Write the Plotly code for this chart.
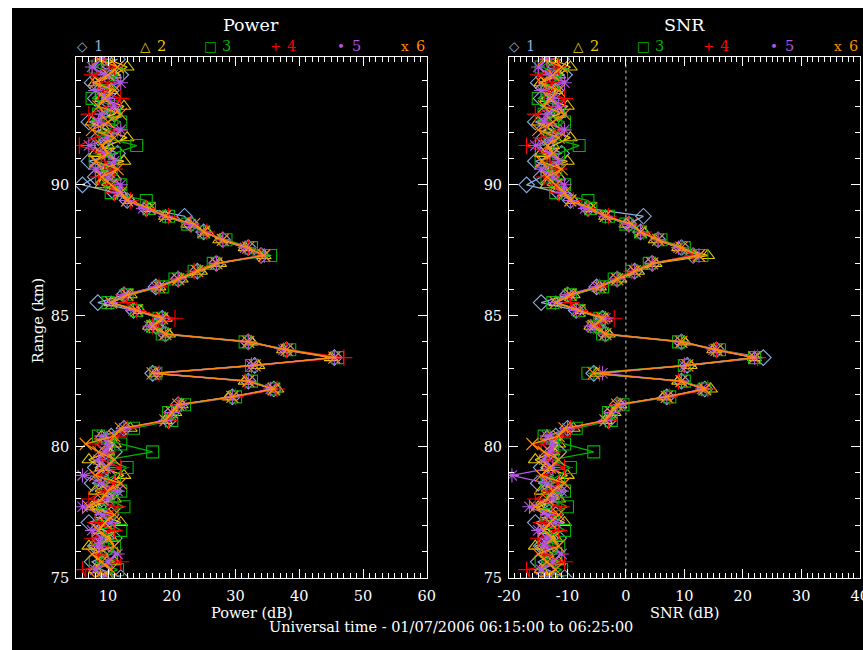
import plotly.graph_objects as go

# Range gates (km): 75.0 .. 94.8 every 0.3 km
gate_start = 75.0
gate_step = 0.3
n_gates = 67
ranges_km = [round(gate_start + gate_step * k, 1) for k in range(n_gates)]

series_names = ["1", "2", "3", "4", "5", "6"]
series_colors = ["#8aaee0", "#e8c800", "#00b400", "#ff0000", "#b455e6", "#ff8c00"]
series_symbols = ["diamond-open", "triangle-up-open", "square-open",
                  "cross-thin-open", "asterisk-open", "x-thin-open"]
legend_glyphs = ["\u25c7", "\u25b3", "\u25a1", "+", "\u2022", "x"]

# Power (dB) per beam
power_1 = [12, 9, 7.5, 10, 8, 11, 9.5, 7, 10.5, 8.5, 9, 11, 7.5, 10, 8, 9.5, 11,
           9.5, 10.5, 12.5,
           19.5, 20, 21, 29.5, 36, 32, 17, 33, 45.5, 38, 32, 19, 17.5, 18.5, 14, 8.4,
           12.5, 17.5, 21, 24, 27, 34, 32, 28, 25, 23, 22, 16, 13, 11, 6,
           8, 10, 7, 11.5, 9, 8.5, 10, 7, 11, 9.5, 8, 10.5, 7.5, 12, 9, 11.5]
power_2 = [10, 8, 11, 9, 7, 10.5, 8.5, 12, 9, 7.5, 11, 8, 10, 12.5, 9, 7, 10,
           11, 9, 13.5,
           19, 20.5, 21.5, 29, 36.5, 31.5, 17.5, 33.5, 45, 37.5, 32.5, 19.5, 16.5, 19, 15, 10.5,
           13.5, 18, 21.5, 24.5, 27.5, 34.5, 31.5, 27.5, 25.5, 22.5, 19, 16.5, 13.5, 12, 9,
           11, 9, 12.5, 8, 10, 13, 9.5, 7.5, 11, 12.5, 9, 10.5, 8, 11, 13, 10]
power_3 = [9, 11.5, 8, 10.5, 11, 8.5, 12, 10, 9, 12.5, 10, 12, 9, 11, 13, 10, 17,
           12, 8.5, 14,
           20, 19.5, 22, 30, 36, 32.5, 17.5, 32.5, 46, 38.5, 31.5, 18.5, 17, 18, 14.5, 10,
           13, 18.5, 20.5, 23.5, 26.5, 35.5, 32.5, 28.5, 25, 22.5, 19.5, 16.5, 16, 10.5, 12,
           9, 10.5, 8, 11, 14.5, 9.5, 10, 12, 8.5, 11, 7.5, 9, 10, 11.5, 8, 10]
power_4 = [6.5, 6, 12, 8.5, 9, 7.5, 11, 8, 10, 11.5, 7, 9.5, 11, 8.5, 12, 9, 10,
           8, 11.5, 13,
           19.5, 20, 21, 30, 36.5, 31.5, 18, 32.5, 47, 38, 32, 19, 17, 20.5, 14.5, 13,
           12.5, 18, 21, 23.5, 27, 34, 32, 28, 25.5, 23, 19.5, 16, 13.5, 11, 10.5,
           8.5, 11, 9.5, 9, 5.5, 8, 11.5, 9, 7, 10.5, 12, 8.5, 10, 7.5, 11, 9]
power_5 = [9.5, 8, 10, 11.5, 8.5, 9, 7.5, 10.5, 9, 6, 10, 11.5, 9, 6, 10, 8.5, 9.5,
           10, 9, 12.5,
           19, 20, 21.5, 29.5, 35.5, 32, 17.5, 32.5, 45.5, 37.5, 32, 19, 16.5, 18.5, 14, 10.5,
           12.5, 17.5, 21, 24, 27, 34.5, 31.5, 28, 25, 23, 19, 15.5, 13, 11.5, 12,
           10, 8, 11, 9.5, 7, 10, 12, 8.5, 9, 11, 10, 8, 12, 9.5, 7.5, 9]
power_6 = [8, 10.5, 9, 7.5, 11, 10, 8.5, 9.5, 11, 7, 9, 10, 12, 8, 9.5, 11, 8.5,
           6.5, 11, 12,
           19, 20, 21, 29.5, 36, 32, 17, 33, 45.5, 38, 32, 19, 17, 18.5, 14.5, 10.5,
           13, 18, 21, 24, 27, 34.5, 32, 28, 25, 23.5, 19, 16.5, 13, 12, 10.5,
           9, 11.5, 8, 10, 9, 11, 7.5, 10, 12, 8.5, 9.5, 11, 8, 10, 11.5, 8.5]

# SNR (dB) per beam
snr_1 = [-10.5, -13.5, -15, -12.5, -14.5, -11.5, -13, -15.5, -12, -14, -13.5, -11.5, -15, -12.5, -14.5, -13, -11.5,
         -13, -12, -10,
         -3, -2.5, -1.5, 7, 13.5, 9.5, -5.5, 10.5, 23.5, 15.5, 9.5, -3.5, -5, -4, -8.5, -14.5,
         -10, -5, -1.5, 1.5, 4.5, 11.5, 9.5, 5.5, 2.5, 0.5, 3, -6.5, -9.5, -11.5, -17,
         -14.5, -12.5, -15.5, -11, -13.5, -14, -12.5, -15.5, -11.5, -13, -14.5, -12, -15, -10.5, -13.5, -11]
snr_2 = [-12.5, -14.5, -11.5, -13.5, -15.5, -12, -14, -10.5, -13.5, -15, -11.5, -14.5, -12.5, -10, -13.5, -15.5, -12.5,
         -11.5, -13.5, -9,
         -3.5, -2, -1, 6.5, 14.5, 9, -5, 11, 22, 15, 10, -3, -6, -3.5, -7.5, -12,
         -9, -4.5, -1, 2, 5, 14, 9, 5, 3, 0, -3.5, -6, -9, -10.5, -13.5,
         -11.5, -13.5, -10, -14.5, -12.5, -9.5, -13, -15, -11.5, -10, -13.5, -12, -14.5, -11.5, -9.5, -12.5]
snr_3 = [-13.5, -11, -14.5, -12, -11.5, -14, -10.5, -12.5, -13.5, -10, -12.5, -10.5, -13.5, -11.5, -9.5, -12.5, -5.5,
         -10.5, -14, -8.5,
         -2.5, -3, -0.5, 7.5, 13.5, 10, -6.5, 10, 22, 16, 9, -4, -5.5, -4.5, -8, -12.5,
         -9.5, -4, -2, 1, 4, 13, 10, 6, 2.5, 0, -3, -6, -6.5, -12, -10.5,
         -13.5, -12, -14.5, -11.5, -8, -13, -12.5, -10.5, -14, -11.5, -15, -13.5, -12.5, -11, -14.5, -12.5]
snr_4 = [-16.5, -17, -10.5, -14, -13.5, -15, -11.5, -14.5, -12.5, -11, -15.5, -13, -11.5, -14, -10.5, -13.5, -12.5,
         -14.5, -11, -9.5,
         -3, -2.5, -1.5, 7.5, 14, 9, -4.5, 10, 22.5, 15.5, 9.5, -3.5, -5.5, -2, -8, -9.5,
         -10, -4.5, -1.5, 1, 4.5, 11.5, 9.5, 5.5, 3, 0.5, -3, -6.5, -9, -11.5, -12,
         -14, -11.5, -13, -13.5, -17, -14.5, -11, -13.5, -15.5, -12, -10.5, -14, -12.5, -15, -11.5, -13.5]
snr_5 = [-13, -14.5, -12.5, -11, -14, -13.5, -15, -12, -13.5, -16.5, -12.5, -11, -13.5, -19.5, -12.5, -14, -13,
         -12.5, -13.5, -10,
         -3.5, -2.5, -1, 7, 13, 9.5, -4, 10, 22, 15, 9.5, -3.5, -6, -3.5, -8.5, -12,
         -10, -5, -1.5, 1.5, 4.5, 12.5, 9, 5.5, 2.5, 0.5, -3.5, -7, -9.5, -11, -10.5,
         -12.5, -14.5, -11.5, -13, -15.5, -12.5, -10.5, -14, -13.5, -11.5, -12.5, -14.5, -10.5, -13, -15, -13.5]
snr_6 = [-14.5, -12, -13.5, -15, -11.5, -12.5, -14, -13, -11.5, -15.5, -13.5, -12.5, -10.5, -14.5, -13, -11.5, -14,
         -16, -11.5, -10.5,
         -3.5, -2.5, -1.5, 7, 13.5, 9.5, -5.5, 10.5, 22, 15.5, 9.5, -3.5, -5.5, -4, -8, -12,
         -9.5, -4.5, -1.5, 1.5, 4.5, 12.5, 9.5, 5.5, 2.5, 1, -3.5, -6, -9.5, -10.5, -12,
         -13.5, -11, -14.5, -12.5, -13.5, -11.5, -15, -12.5, -10.5, -14, -13, -11.5, -14.5, -12.5, -11, -14]

power_series = [power_1, power_2, power_3, power_4, power_5, power_6]
snr_series = [snr_1, snr_2, snr_3, snr_4, snr_5, snr_6]

power_ticks = [10, 20, 30, 40, 50, 60]
power_ticktext = ["10", "20", "30", "40", "50", "60"]
snr_ticks = [-20, -10, 0, 10, 20, 30, 40]
snr_ticktext = ["-20", "-10", "0", "10", "20", "30", "40"]
range_ticks = [75, 80, 85, 90]
range_ticktext = ["75", "80", "85", "90"]

# Empirical mapping between figure pixels and photographed pixels
OFF_X, SX, SY = 12.0, 0.974, 0.987
W, H = 874, 659
FONT = "DejaVu Serif"


def fx(x):
    return (x - OFF_X) / SX


def fy(y):
    return y / SY


def px(x):
    return min(1.0, max(0.0, fx(x) / W))


def py(y):
    return min(1.0, max(0.0, 1 - fy(y) / H))


fig = go.Figure()
for i in range(6):
    fig.add_trace(go.Scatter(
        x=power_series[i], y=ranges_km, mode="lines+markers",
        line=dict(color=series_colors[i], width=1.3),
        marker=dict(symbol=series_symbols[i], size=12, color=series_colors[i],
                    line=dict(color=series_colors[i], width=1.1)),
        xaxis="x", yaxis="y", showlegend=False, cliponaxis=True))
for i in range(6):
    fig.add_trace(go.Scatter(
        x=snr_series[i], y=ranges_km, mode="lines+markers",
        line=dict(color=series_colors[i], width=1.3),
        marker=dict(symbol=series_symbols[i], size=12, color=series_colors[i],
                    line=dict(color=series_colors[i], width=1.1)),
        xaxis="x2", yaxis="y2", showlegend=False, cliponaxis=True))

y_dom = [py(577), py(57)]
axis_common = dict(showline=True, linecolor="white", linewidth=1, mirror="allticks",
                   ticks="inside", ticklen=9, tickcolor="white", tickwidth=1,
                   showgrid=False, zeroline=False,
                   tickfont=dict(family=FONT, size=14.5, color="white"))

fig.update_layout(
    width=W, height=H,
    margin=dict(l=0, r=0, t=0, b=0),
    paper_bgcolor="white", plot_bgcolor="black",
    showlegend=False,
    xaxis=dict(domain=[px(76), px(426)], range=[5, 60], anchor="y",
               tickmode="array", tickvals=power_ticks, ticktext=power_ticktext,
               minor=dict(dtick=1, ticklen=5, ticks="inside", tickcolor="white"),
               ticklabelstandoff=5, **axis_common),
    yaxis=dict(domain=y_dom, range=[75, 94.88], anchor="x",
               tickmode="array", tickvals=range_ticks, ticktext=range_ticktext,
               minor=dict(dtick=1, ticklen=5, ticks="inside", tickcolor="white"),
               ticklabelstandoff=3, **axis_common),
    xaxis2=dict(domain=[px(508), px(858)], range=[-20, 40], anchor="y2",
                tickmode="array", tickvals=snr_ticks, ticktext=snr_ticktext,
                minor=dict(dtick=1, ticklen=5, ticks="inside", tickcolor="white"),
                ticklabelstandoff=5, **axis_common),
    yaxis2=dict(domain=y_dom, range=[75, 94.88], anchor="x2",
                tickmode="array", tickvals=range_ticks, ticktext=range_ticktext,
                minor=dict(dtick=1, ticklen=5, ticks="inside", tickcolor="white"),
                ticklabelstandoff=3, **axis_common),
)

shapes = [
    dict(type="rect", xref="paper", yref="paper", x0=0, x1=1, y0=0, y1=py(8),
         fillcolor="black", line=dict(width=0), layer="below"),
    dict(type="line", xref="x2", yref="y2", x0=0, x1=0, y0=75, y1=94.88,
         line=dict(color="#cccccc", width=1, dash="dot"), layer="below"),
]
fig.update_layout(shapes=shapes)

ann = []


def text(x, y, s, size=14, color="white", angle=0, xanchor="center"):
    ann.append(dict(x=px(x), y=py(y), xref="paper", yref="paper", text=s,
                    showarrow=False, textangle=angle, xanchor=xanchor, yanchor="middle",
                    font=dict(family=FONT, size=size, color=color)))


text(251, 25, "Power", size=17.5)
text(683, 25, "SNR", size=17.5)
text(252, 612, "Power (dB)", size=14.5)
text(683, 612, "SNR (dB)", size=14.5)
text(450, 626, "Universal time - 01/07/2006 06:15:00 to 06:25:00", size=14.5)
text(38, 320, "Range (km)", size=14.5, angle=-90)

left_glyph_x = [82, 145, 210, 275, 340, 404]
right_glyph_x = [513, 577, 642, 707, 772, 836]
for i in range(6):
    for gx in (left_glyph_x[i], right_glyph_x[i]):
        text(gx, 46, legend_glyphs[i], size=13.5, color=series_colors[i])
        text(gx + 16, 46, series_names[i], size=14.5, color=series_colors[i])

fig.update_layout(annotations=ann)
fig.write_html("out.html")
